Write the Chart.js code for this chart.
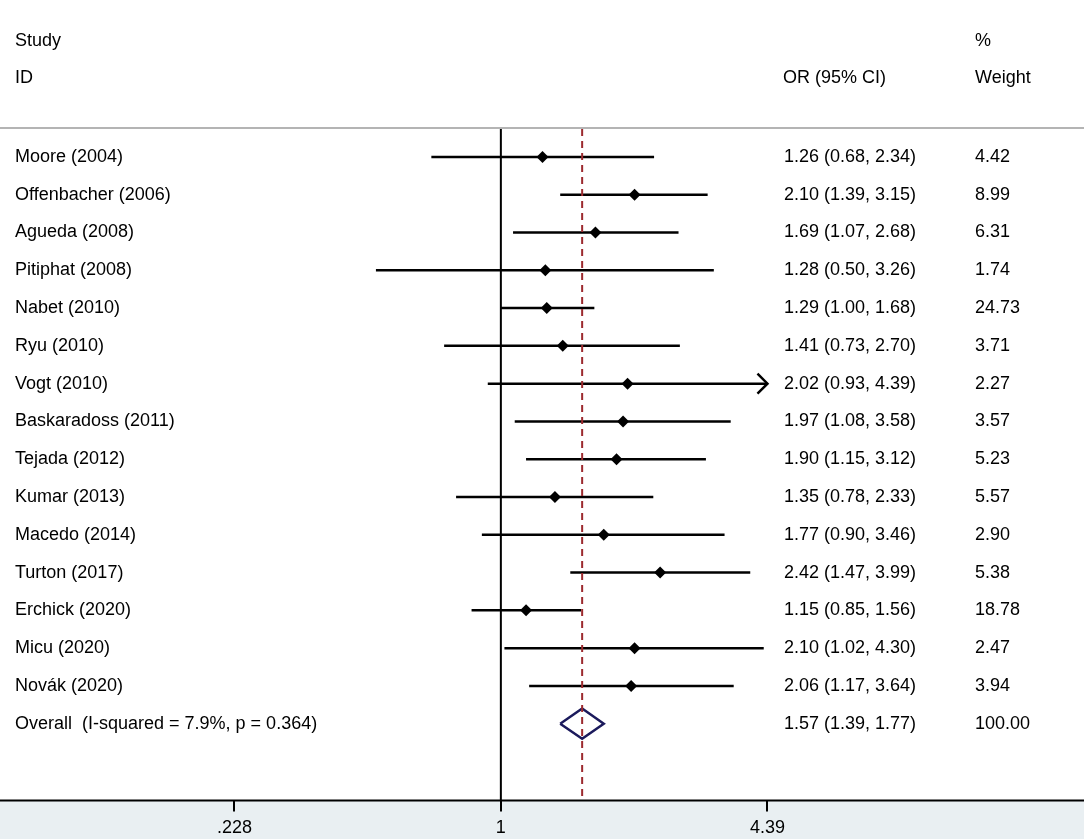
<!DOCTYPE html>
<html>
<head>
<meta charset="utf-8">
<title>Forest plot</title>
<script src="https://cdn.jsdelivr.net/npm/chart.js@4.4.1/dist/chart.umd.min.js"></script>
<style>
  html, body { margin: 0; padding: 0; background: #fff; }
  #wrap { width: 1084px; height: 839px; position: relative; }
</style>
</head>
<body>
<div id="wrap"><canvas id="forest"></canvas></div>
<script>
// study data
const studies = ['Moore (2004)', 'Offenbacher (2006)', 'Agueda (2008)', 'Pitiphat (2008)', 'Nabet (2010)',
    'Ryu (2010)', 'Vogt (2010)', 'Baskaradoss (2011)', 'Tejada (2012)', 'Kumar (2013)',
    'Macedo (2014)', 'Turton (2017)', 'Erchick (2020)', 'Micu (2020)', 'Novák (2020)'];
const oddsRatio = [1.26, 2.10, 1.69, 1.28, 1.29, 1.41, 2.02, 1.97, 1.90, 1.35, 1.77, 2.42, 1.15, 2.10, 2.06];
const ciLow = [0.68, 1.39, 1.07, 0.50, 1.00, 0.73, 0.93, 1.08, 1.15, 0.78, 0.90, 1.47, 0.85, 1.02, 1.17];
const ciHigh = [2.34, 3.15, 2.68, 3.26, 1.68, 2.70, 4.39, 3.58, 3.12, 2.33, 3.46, 3.99, 1.56, 4.30, 3.64];
const weights = [4.42, 8.99, 6.31, 1.74, 24.73, 3.71, 2.27, 3.57, 5.23, 5.57, 2.90, 5.38, 18.78, 2.47, 3.94];

const overallLabel = 'Overall  (I-squared = 7.9%, p = 0.364)';
const overall = [1.57, 1.39, 1.77];   // OR, low, high
const overallWeight = 100.00;

const tickValues = [0.228, 1, 4.39];
const tickLabels = ['.228', '1', '4.39'];

const FONT = '18px "Liberation Sans", Arial, sans-serif';
const overallRow = studies.length + 1;

// one line per confidence interval
const ciSets = studies.map((s, i) => ({
    type: 'line',
    data: [{ x: ciLow[i], y: i + 1 }, { x: ciHigh[i], y: i + 1 }],
    borderColor: '#000',
    borderWidth: 2.5,
    pointRadius: 0,
    tension: 0
}));

const pointSet = {
    type: 'scatter',
    data: studies.map((s, i) => ({ x: oddsRatio[i], y: i + 1 })),
    pointStyle: 'rectRot',
    pointRadius: 6,
    backgroundColor: '#000',
    borderColor: '#000',
    borderWidth: 0
};

const diamondSet = {
    type: 'line',
    data: [
        { x: overall[1], y: overallRow },
        { x: overall[0], y: overallRow - 0.4 },
        { x: overall[2], y: overallRow },
        { x: overall[0], y: overallRow + 0.4 },
        { x: overall[1], y: overallRow }
    ],
    borderColor: '#1b1a5c',
    borderWidth: 2.5,
    pointRadius: 0,
    tension: 0,
    fill: false
};

const forestExtras = {
    id: 'forestExtras',
    beforeDraw(chart) {
        const { ctx, chartArea, width, height } = chart;
        ctx.save();
        // band under the axis
        ctx.fillStyle = '#e9eff2';
        ctx.fillRect(0, chartArea.bottom, width, height - chartArea.bottom);
        // header rule
        ctx.fillStyle = '#b4b4b4';
        ctx.fillRect(0, chartArea.top - 2, width, 2);
        ctx.restore();
    },
    beforeDatasetsDraw(chart) {
        const { ctx, chartArea, scales, width } = chart;
        const x1 = scales.x.getPixelForValue(1);
        ctx.save();
        ctx.strokeStyle = '#000';
        ctx.lineWidth = 2;
        ctx.beginPath();
        ctx.moveTo(x1, chartArea.top);
        ctx.lineTo(x1, chartArea.bottom);
        // axis line over the full width
        ctx.moveTo(0, chartArea.bottom);
        ctx.lineTo(width, chartArea.bottom);
        ctx.stroke();
        ctx.restore();
    },
    afterDatasetsDraw(chart) {
        const { ctx, chartArea, scales } = chart;
        ctx.save();
        // dashed line at the pooled estimate
        const xo = scales.x.getPixelForValue(overall[0]);
        ctx.strokeStyle = '#9c2a2e';
        ctx.lineWidth = 2;
        ctx.setLineDash([7, 5]);
        ctx.beginPath();
        ctx.moveTo(xo, chartArea.top);
        ctx.lineTo(xo, chartArea.bottom);
        ctx.stroke();
        ctx.setLineDash([]);

        // arrow heads where the CI reaches the axis limit
        const axisMax = tickValues[tickValues.length - 1];
        ctx.strokeStyle = '#000';
        ctx.lineWidth = 2.5;
        ciHigh.forEach((hi, i) => {
            if (hi < axisMax) return;
            const ax = scales.x.getPixelForValue(axisMax);
            const ay = scales.y.getPixelForValue(i + 1);
            ctx.beginPath();
            ctx.moveTo(ax - 10, ay - 10);
            ctx.lineTo(ax, ay);
            ctx.lineTo(ax - 10, ay + 10);
            ctx.stroke();
        });
        ctx.restore();
    },
    afterDraw(chart) {
        const { ctx, scales } = chart;
        ctx.save();
        ctx.font = FONT;
        ctx.fillStyle = '#000';
        ctx.textBaseline = 'middle';
        ctx.textAlign = 'left';

        ctx.fillText('Study', 15, 41);
        ctx.fillText('ID', 15, 78);
        ctx.fillText('OR (95% CI)', 783, 78);
        ctx.fillText('%', 975, 41);
        ctx.fillText('Weight', 975, 78);

        studies.forEach((s, i) => {
            const y = scales.y.getPixelForValue(i + 1);
            ctx.fillText(s, 15, y);
            ctx.fillText(oddsRatio[i].toFixed(2) + ' (' + ciLow[i].toFixed(2) + ', ' + ciHigh[i].toFixed(2) + ')', 784, y);
            ctx.fillText(weights[i].toFixed(2), 975, y);
        });
        const yo = scales.y.getPixelForValue(overallRow);
        ctx.fillText(overallLabel, 15, yo);
        ctx.fillText(overall[0].toFixed(2) + ' (' + overall[1].toFixed(2) + ', ' + overall[2].toFixed(2) + ')', 784, yo);
        ctx.fillText(overallWeight.toFixed(2), 975, yo);
        ctx.restore();
    }
};

new Chart(document.getElementById('forest'), {
    type: 'scatter',
    data: { datasets: [...ciSets, pointSet, diamondSet] },
    options: {
        responsive: true,
        maintainAspectRatio: false,
        animation: false,
        layout: { padding: { top: 129, bottom: -6, left: 0, right: 0 } },
        plugins: { legend: { display: false }, tooltip: { enabled: false } },
        scales: {
            x: {
                type: 'logarithmic',
                min: 0.0642,
                max: 24.59,
                afterBuildTicks: (scale) => {
                    scale.ticks = tickValues.map(v => ({ value: v }));
                },
                ticks: {
                    autoSkip: false,
                    maxRotation: 0,
                    padding: 6,
                    color: '#000',
                    font: { family: '"Liberation Sans", Arial, sans-serif', size: 18 },
                    callback: (val, idx) => tickLabels[idx]
                },
                grid: {
                    drawOnChartArea: false,
                    drawTicks: true,
                    tickLength: 11,
                    color: '#000',
                    lineWidth: 2
                },
                border: { display: false }
            },
            y: {
                type: 'linear',
                reverse: true,
                min: 0.26,
                max: 18.03,
                display: false
            }
        }
    },
    plugins: [forestExtras]
});
</script>
</body>
</html>
